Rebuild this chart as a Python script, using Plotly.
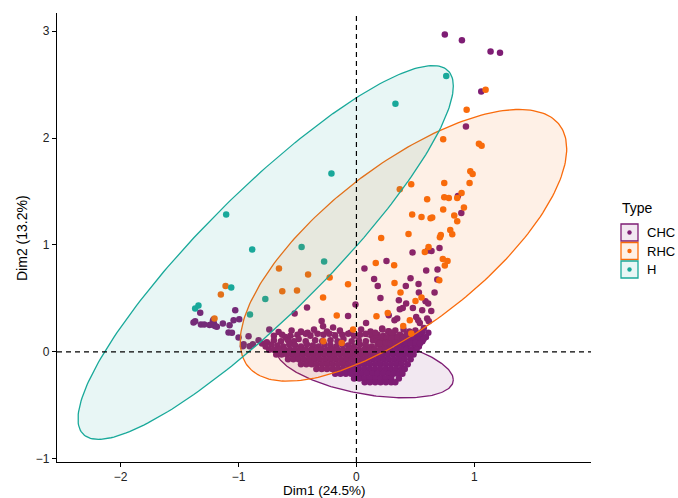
import numpy as np
import plotly.graph_objects as go

# ---------------- data ----------------
TYPES = ["CHC", "RHC", "H"]
COLORS = ["#7E1D74", "#F96B0C", "#19A99A"]
X_TICKS = [-2, -1, 0, 1]
Y_TICKS = [-1, 0, 1, 2, 3]
X_TITLE = "Dim1 (24.5%)"
Y_TITLE = "Dim2 (13.2%)"
LEGEND_TITLE = "Type"

# H (teal) individuals
h_x = [0.762, 0.331, -0.212, -1.105, -0.884, -0.465, -0.274, -1.062, -0.773, -0.903, -1.368, -1.340]
h_y = [2.580, 2.321, 1.668, 1.285, 0.958, 0.981, 0.845, 0.602, 0.495, 0.350, 0.406, 0.434]

# RHC (orange) individuals
rhc_x = [1.096, 0.935, 0.736, 1.039, 1.062, 0.966, 0.986, 0.960, 0.745, 0.465, 0.368, 0.892,
         0.745, 0.784, 0.855, 0.600, 0.912, 0.736, 0.473, 0.552, 0.629, 0.643, 0.830, 0.855,
         0.796, 0.813, 0.442, 0.716, 0.708, 0.210, 0.612, 0.580, 0.733, 0.773, 0.750, 0.164,
         0.320, 0.323, 0.703, -0.657, -0.410, -0.227, -0.629, -0.504, -0.071, -0.283, -1.110,
         -1.150, -0.167, -0.028, -1.204, -0.280, -0.125, 0.170, 0.374, 0.501, 0.552, 0.266,
         0.453, 0.397, 0.465]
rhc_y = [2.452, 2.265, 1.988, 1.948, 1.929, 1.689, 1.664, 1.579, 1.579, 1.567, 1.521, 1.486,
         1.446, 1.439, 1.439, 1.427, 1.350, 1.331, 1.284, 1.262, 1.250, 1.256, 1.275, 1.221,
         1.140, 1.100, 1.103, 1.093, 1.072, 1.065, 0.981, 0.935, 0.869, 0.850, 0.807, 0.832,
         0.810, 0.645, 0.670, 0.779, 0.723, 0.695, 0.567, 0.574, 0.633, 0.508, 0.617,
         0.536, 0.340, 0.209, 0.312, 0.100, 0.084, 0.333, 0.555, 0.477, 0.508, 0.364,
         0.296, 0.243, 0.172]

# CHC (purple) individuals outside the dense core
chc_x_loose = [0.750, 0.895, 1.138, 1.218, 1.059, 0.929, 0.861, 0.890,
               0.705, 0.606, 0.637, 0.476, 0.255, 0.592, 0.688, 0.150, 0.181, 0.459, 0.419,
               0.527, 0.686, 0.068, -0.008,
               0.530, 0.663, 0.204, 0.360, 0.422, 0.586, 0.609, 0.368, 0.393, 0.479, 0.558,
               0.635, 0.274, 0.323, 0.346, 0.507, 0.524, 0.538, 0.600, 0.614, 0.572,
               -0.419, -0.071, 0.082, -0.295, -0.283, -0.198, -0.524,
               -1.028, -1.325, -1.382, -1.368, -1.319, -1.291, -1.246, -1.226, -1.209, -1.200,
               -1.184, -1.218, -1.212, -1.133, -1.076, -1.042, -0.994, -1.085, -1.056, -1.000,
               -0.915, -0.957, -0.906, -0.878, -0.830, -0.801, -0.739, -0.963, -0.660, -0.603,
               -0.414, 0.218, 0.274]
chc_y_loose = [2.969, 2.916, 2.810, 2.798, 2.435, 2.109, 1.458, 1.299,
               0.972, 0.948, 0.944, 0.929, 0.850, 0.761, 0.770, 0.682, 0.617, 0.689, 0.617,
               0.636, 0.677, 0.779, 0.443,
               0.555, 0.555, 0.505, 0.483, 0.452, 0.474, 0.452, 0.399, 0.411, 0.411, 0.390,
               0.383, 0.343, 0.296, 0.312, 0.327, 0.296, 0.271, 0.312, 0.287, 0.224,
               0.415, 0.336, 0.271, 0.290, 0.240, 0.228, 0.359,
               0.390, 0.365, 0.275, 0.287, 0.256, 0.256, 0.252, 0.256, 0.265, 0.243,
               0.234, 0.290, 0.303, 0.265, 0.250, 0.296, 0.306, 0.181, 0.178, 0.135,
               0.147, 0.072, 0.053, 0.072, 0.109, 0.078, 0.209, 0.053, 0.187, 0.140,
               0.178, 0.219, 0.194]

# CHC upper part of the core (moderately dense)
chc_x_upper = [-0.55, -0.47, -0.36, -0.25, -0.14, -0.05, 0.04, 0.12, 0.22, 0.27, 0.33, 0.40, 0.45, 0.50, 0.56, 0.61,
               -0.70, -0.63, -0.56, -0.50, -0.43, -0.39, -0.33, -0.28, -0.23, -0.18, -0.12, -0.07, -0.02, 0.03,
               0.08, 0.13, 0.18, 0.23, 0.28, 0.32, 0.37, 0.42, 0.46, 0.51, 0.55, 0.59,
               -0.76, -0.70, -0.64, -0.58, -0.53, -0.49, -0.43, -0.35, -0.29, -0.22, -0.16, -0.11, -0.04, 0.02,
               0.08, 0.14, 0.19, 0.24, 0.29, 0.34, 0.38, 0.43, 0.47, 0.52, 0.56,
               -0.77, -0.72, -0.67, -0.62, -0.57, -0.52, -0.47, -0.42, -0.37, -0.32, -0.27, -0.22, -0.17, -0.12,
               -0.07, -0.02, 0.03, 0.08, 0.13, 0.18, 0.22, 0.27, 0.31, 0.35, 0.40, 0.44, 0.49, 0.53,
               0.17, 0.21, 0.26, 0.30, 0.35, 0.39, 0.44, 0.48, 0.53, 0.57,
               0.20, 0.25, 0.29, 0.33, 0.37, 0.42, 0.46, 0.50, 0.54,
               0.16, 0.30, 0.43, 0.53]
chc_y_upper = [0.20, 0.19, 0.21, 0.19, 0.20, 0.18, 0.21, 0.19, 0.21, 0.19, 0.20, 0.21, 0.19, 0.20, 0.19, 0.18,
               0.15, 0.16, 0.15, 0.16, 0.17, 0.15, 0.17, 0.16, 0.17, 0.15, 0.16, 0.17, 0.15, 0.16,
               0.17, 0.15, 0.16, 0.15, 0.16, 0.15, 0.16, 0.15, 0.16, 0.15, 0.16, 0.14,
               0.09, 0.11, 0.10, 0.11, 0.10, 0.12, 0.10, 0.11, 0.10, 0.11, 0.10, 0.12, 0.10, 0.11,
               0.10, 0.11, 0.10, 0.11, 0.10, 0.11, 0.10, 0.11, 0.10, 0.11, 0.10,
               0.05, 0.07, 0.06, 0.05, 0.07, 0.06, 0.05, 0.07, 0.06, 0.05, 0.07, 0.06, 0.05, 0.07,
               0.06, 0.05, 0.07, 0.06, 0.05, 0.07, 0.06, 0.05, 0.07, 0.06, 0.05, 0.07, 0.06, 0.05,
               0.13, 0.135, 0.13, 0.125, 0.135, 0.13, 0.13, 0.135, 0.13, 0.12,
               0.08, 0.085, 0.08, 0.085, 0.08, 0.085, 0.08, 0.085, 0.08,
               0.18, 0.18, 0.17, 0.17]

# CHC dense core, one row of Dim1 values per Dim2 level
chc_core_y = [0.02, -0.025, -0.07, -0.115, -0.16, -0.205, -0.25, -0.285]
chc_core_x = [
    [-0.74, -0.70, -0.655, -0.61, -0.565, -0.52, -0.475, -0.43, -0.385, -0.34, -0.295, -0.25, -0.205, -0.16,
     -0.115, -0.07, -0.025, 0.02, 0.065, 0.11, 0.155, 0.20, 0.245, 0.29, 0.335, 0.38, 0.425, 0.47, 0.51],
    [-0.68, -0.635, -0.59, -0.545, -0.50, -0.455, -0.41, -0.365, -0.32, -0.275, -0.23, -0.185, -0.14, -0.095,
     -0.05, -0.005, 0.04, 0.085, 0.13, 0.175, 0.22, 0.265, 0.31, 0.355, 0.40, 0.445, 0.485],
    [-0.58, -0.535, -0.49, -0.445, -0.40, -0.355, -0.31, -0.265, -0.22, -0.175, -0.13, -0.085, -0.04, 0.005,
     0.05, 0.095, 0.14, 0.185, 0.23, 0.275, 0.32, 0.365, 0.41, 0.46],
    [-0.47, -0.425, -0.38, -0.335, -0.29, -0.245, -0.20, -0.155, -0.11, -0.065, -0.02, 0.025, 0.07, 0.115,
     0.16, 0.205, 0.25, 0.295, 0.34, 0.385, 0.435],
    [-0.34, -0.295, -0.25, -0.205, -0.16, -0.115, -0.07, -0.025, 0.02, 0.065, 0.11, 0.155, 0.20, 0.245,
     0.29, 0.335, 0.38, 0.41],
    [-0.18, -0.135, -0.09, -0.045, 0.0, 0.045, 0.09, 0.135, 0.18, 0.225, 0.27, 0.315, 0.355, 0.39],
    [-0.02, 0.025, 0.07, 0.115, 0.16, 0.205, 0.25, 0.295, 0.36],
    [0.07, 0.115, 0.16, 0.205, 0.25, 0.295, 0.33],
]

# concentration ellipses (centre, sd along Dim1/Dim2, correlation) per type
ell_cx = [0.071, 0.399, -0.77]
ell_cy = [-0.1245, 0.997, 0.93]
ell_sx = [0.751, 1.385, 1.592]
ell_sy = [0.3055, 1.271, 1.748]
ell_rho = [-0.45, 0.71, 0.891]

X_RANGE = [-2.54, 1.99]
Y_RANGE = [-1.03, 3.17]

# ---------------- build ----------------
chc_x = list(chc_x_loose) + list(chc_x_upper)
chc_y = list(chc_y_loose) + list(chc_y_upper)
for yv, row in zip(chc_core_y, chc_core_x):
    chc_x += row
    chc_y += [yv] * len(row)

points = {"CHC": (chc_x, chc_y), "RHC": (rhc_x, rhc_y), "H": (h_x, h_y)}


def rgba(hexc, a):
    h = hexc.lstrip("#")
    r, g, b = int(h[0:2], 16), int(h[2:4], 16), int(h[4:6], 16)
    return f"rgba({r},{g},{b},{a})"


fig = go.Figure()
for t, c in zip(TYPES, COLORS):
    px_, py_ = points[t]
    fig.add_trace(go.Scatter(x=px_, y=py_, mode="markers",
                             marker=dict(size=6.5, color=c, line=dict(width=0)),
                             showlegend=False, hoverinfo="skip"))

theta = np.linspace(0, 2 * np.pi, 241)
for i, (t, c) in enumerate(zip(TYPES, COLORS)):
    ex = ell_cx[i] + ell_sx[i] * np.cos(theta)
    ey = ell_cy[i] + ell_sy[i] * (ell_rho[i] * np.cos(theta) + np.sqrt(1 - ell_rho[i] ** 2) * np.sin(theta))
    fig.add_trace(go.Scatter(x=ex, y=ey, mode="lines", fill="toself",
                             fillcolor=rgba(c, 0.1), line=dict(color=c, width=1.3),
                             showlegend=False, hoverinfo="skip"))

W, H = 678, 498
ML, MR, MT, MB = 57, 87, 13, 36
PW, PH = W - ML - MR, H - MT - MB


def px2x(px):
    return (px - ML) / PW


def py2y(py):
    return (H - MB - py) / PH


shapes = [
    dict(type="line", xref="x", yref="paper", x0=0, x1=0, y0=0, y1=1,
         line=dict(color="black", width=1.2, dash="5px,4px"), layer="above"),
    dict(type="line", xref="paper", yref="y", x0=0, x1=1, y0=0, y1=0,
         line=dict(color="black", width=1.2, dash="5px,4px"), layer="above"),
]
annotations = [
    dict(text=X_TITLE, xref="paper", yref="paper", x=0.5, y=py2y(490), xanchor="center",
         yanchor="middle", showarrow=False, font=dict(size=13.5, color="black")),
    dict(text=Y_TITLE, xref="paper", yref="paper", x=px2x(22), y=py2y(238), xanchor="center",
         yanchor="middle", textangle=-90, showarrow=False, font=dict(size=14, color="black")),
    dict(text=LEGEND_TITLE, xref="paper", yref="paper", x=px2x(620), y=py2y(208), xanchor="left",
         yanchor="middle", showarrow=False, font=dict(size=14, color="black")),
]
box_top = [224, 242.5, 261]
for i, (t, c) in enumerate(zip(TYPES, COLORS)):
    y0, y1 = box_top[i], box_top[i] + 17
    shapes.append(dict(type="rect", xref="paper", yref="paper", x0=px2x(621), x1=px2x(638),
                       y0=py2y(y1), y1=py2y(y0), fillcolor=rgba(c, 0.1),
                       line=dict(color=c, width=1.3)))
    cy = (y0 + y1) / 2
    shapes.append(dict(type="circle", xref="paper", yref="paper", x0=px2x(627.3), x1=px2x(631.7),
                       y0=py2y(cy + 2.2), y1=py2y(cy - 2.2), fillcolor=c, line=dict(width=0)))
    annotations.append(dict(text=t, xref="paper", yref="paper", x=px2x(645), y=py2y(cy),
                            xanchor="left", yanchor="middle", showarrow=False,
                            font=dict(size=13, color="black")))

axis_common = dict(showgrid=False, zeroline=False, showline=True, linecolor="black", linewidth=1.1,
                   ticks="outside", ticklen=4, tickwidth=1, tickcolor="black",
                   tickfont=dict(size=12, color="#222222"))
fig.update_layout(
    width=W, height=H,
    margin=dict(l=ML, r=MR, t=MT, b=MB),
    paper_bgcolor="white", plot_bgcolor="white",
    font=dict(family="Liberation Sans, Arial, sans-serif"),
    xaxis=dict(range=X_RANGE, tickvals=X_TICKS, **axis_common),
    yaxis=dict(range=Y_RANGE, tickvals=Y_TICKS, **axis_common),
    shapes=shapes, annotations=annotations, showlegend=False,
)
fig.write_html("out.html", config={"displayModeBar": False},
               post_script="document.body.style.margin='0px';document.body.style.overflow='hidden';")
